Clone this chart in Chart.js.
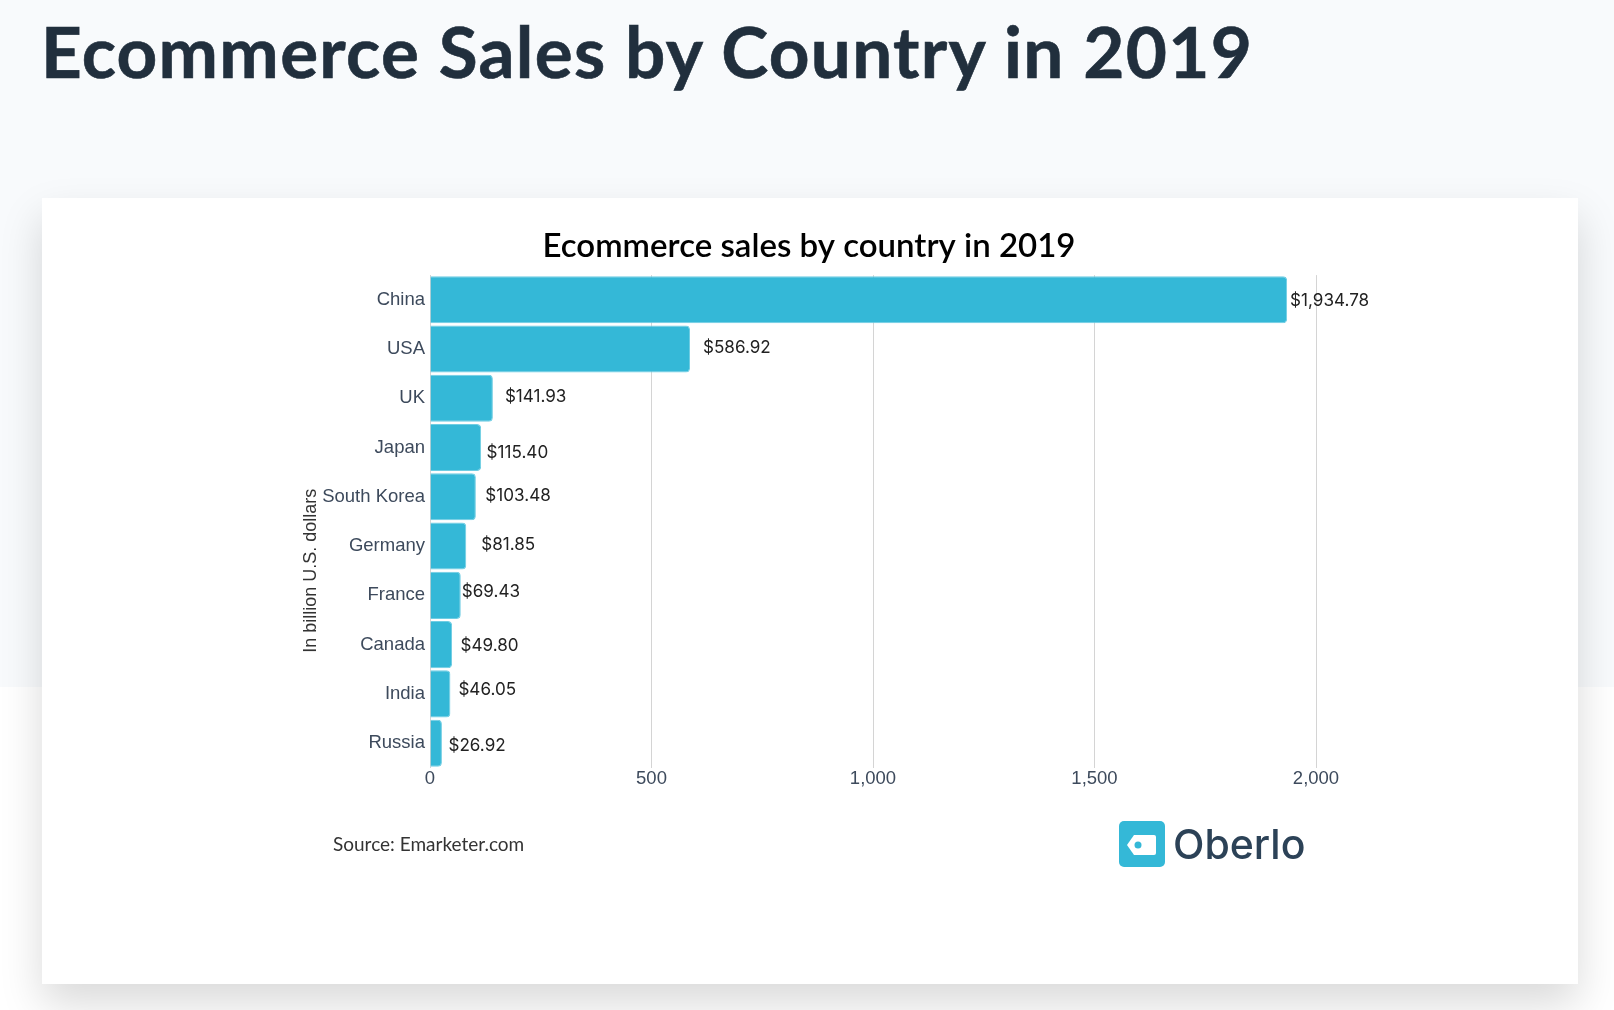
<!DOCTYPE html>
<html lang="en">
<head>
<meta charset="UTF-8">
<title>Ecommerce Sales by Country in 2019</title>
<script src="https://cdn.jsdelivr.net/npm/chart.js@4/dist/chart.umd.min.js"></script>
<style>
  html, body { margin: 0; padding: 0; width: 1614px; height: 1010px; overflow: hidden; background: #fff; }
  #band { position: absolute; left: 0; top: 0; width: 1614px; height: 687px; background: #f8fafc; }
  h1 { position: absolute; left: 41px; top: 8px; margin: 0; font: 700 71px Lato, sans-serif; color: #212f3d; white-space: nowrap; letter-spacing: 1.3px; -webkit-text-stroke: 0.6px #212f3d; }
  #card { position: absolute; left: 42px; top: 198px; width: 1536px; height: 786px; background: #fff; box-shadow: 0 20px 40px rgba(0,0,0,.15); }
  canvas { position: absolute; left: 0; top: 0; }
  #source { position: absolute; left: 291px; top: 634px; font: 19px Lato, sans-serif; color: #333; white-space: nowrap; }
  #logo { position: absolute; left: 1077px; top: 623px; width: 46px; height: 46px; }
  #brand { position: absolute; left: 1131px; top: 621px; font: 500 41px Inter, sans-serif; color: #2c4257; white-space: nowrap; }
</style>
</head>
<body>
<div id="band"></div>
<h1>Ecommerce Sales by Country in 2019</h1>
<div id="card">
  <canvas id="chart" width="1536" height="786"></canvas>
  <div id="source">Source: Emarketer.com</div>
  <svg id="logo" viewBox="0 0 46 46">
    <rect width="46" height="46" rx="5" fill="#34b8d7"/>
    <path d="M8 24 L15 14 H35 a2 2 0 0 1 2 2 V32 a2 2 0 0 1 -2 2 H15 Z" fill="#fff"/>
    <circle cx="19" cy="24" r="3.5" fill="#34b8d7"/>
  </svg>
  <div id="brand">Oberlo</div>
</div>
<script>
const countries = ['China', 'USA', 'UK', 'Japan', 'South Korea', 'Germany', 'France', 'Canada', 'India', 'Russia'];
const sales = [1934.78, 586.92, 141.93, 115.40, 103.48, 81.85, 69.43, 49.80, 46.05, 26.92];
const axisTicks = [0, 500, 1000, 1500, 2000];
const yAxisTitle = 'In billion U.S. dollars';
// the labels in the picture were placed by hand, so each has its own nudge from the bar end
const labelGapX = [3, 13, 12, 5.5, 9.5, 15, 1, 8.5, 8, 6.5];
const labelGapY = [1.5, -1, -1, 5.5, -1, -1.5, -3.5, 1.5, -4, 3];

const valueLabels = {
  id: 'valueLabels',
  afterDatasetsDraw(chart) {
    const ctx = chart.ctx;
    const bars = chart.getDatasetMeta(0).data;
    ctx.save();
    ctx.font = '17.1px Inter, sans-serif';
    ctx.fillStyle = '#222';
    ctx.textAlign = 'left';
    ctx.textBaseline = 'middle';
    bars.forEach((bar, i) => {
      const text = '$' + sales[i].toLocaleString('en-US', { minimumFractionDigits: 2 });
      ctx.fillText(text, bar.x + labelGapX[i], bar.y + labelGapY[i]);
    });
    // axis title sits lower than the axis centre in the picture
    const yScale = chart.scales.y;
    ctx.translate(yScale.left + 9, yScale.bottom - 115);
    ctx.rotate(-Math.PI / 2);
    ctx.font = '18px "Liberation Sans", sans-serif';
    ctx.fillStyle = '#333';
    ctx.fillText(yAxisTitle, 0, 0);
    ctx.restore();
  }
};

new Chart(document.getElementById('chart').getContext('2d'), {
  type: 'bar',
  data: {
    labels: countries,
    datasets: [{
      data: sales,
      backgroundColor: '#34b8d7',
      borderColor: '#6fcde3',
      borderWidth: 1,
      borderSkipped: 'left',
      borderRadius: { topRight: 4, bottomRight: 4 },
      categoryPercentage: 1,
      barPercentage: 0.955
    }]
  },
  plugins: [valueLabels],
  options: {
    indexAxis: 'y',
    responsive: false,
    animation: false,
    layout: { padding: { left: 260, right: 262, bottom: 194 } },
    plugins: {
      legend: { display: false },
      tooltip: { enabled: false },
      title: {
        display: true,
        text: 'Ecommerce sales by country in 2019',
        color: '#000',
        font: { family: 'Lato, sans-serif', size: 33, weight: '600' },
        padding: { top: 29, bottom: 8.5 }
      }
    },
    scales: {
      x: {
        min: 0,
        max: 2000,
        afterBuildTicks(scale) { scale.ticks = axisTicks.map(v => ({ value: v })); },
        grid: { color: '#d4d4d4', drawTicks: false },
        border: { display: false },
        ticks: {
          padding: 0,
          maxRotation: 0,
          color: '#3d4a5c',
          font: { family: '"Liberation Sans", sans-serif', size: 18.5 },
          callback: v => v.toLocaleString('en-US')
        }
      },
      y: {
        afterFit(scale) { scale.width = 128; },
        grid: { display: false, drawTicks: false },
        border: { display: true, color: '#d4d4d4' },
        ticks: {
          padding: 5,
          color: '#3d4a5c',
          font: { family: '"Liberation Sans", sans-serif', size: 18.5 }
        }
      }
    }
  }
});
</script>
</body>
</html>
